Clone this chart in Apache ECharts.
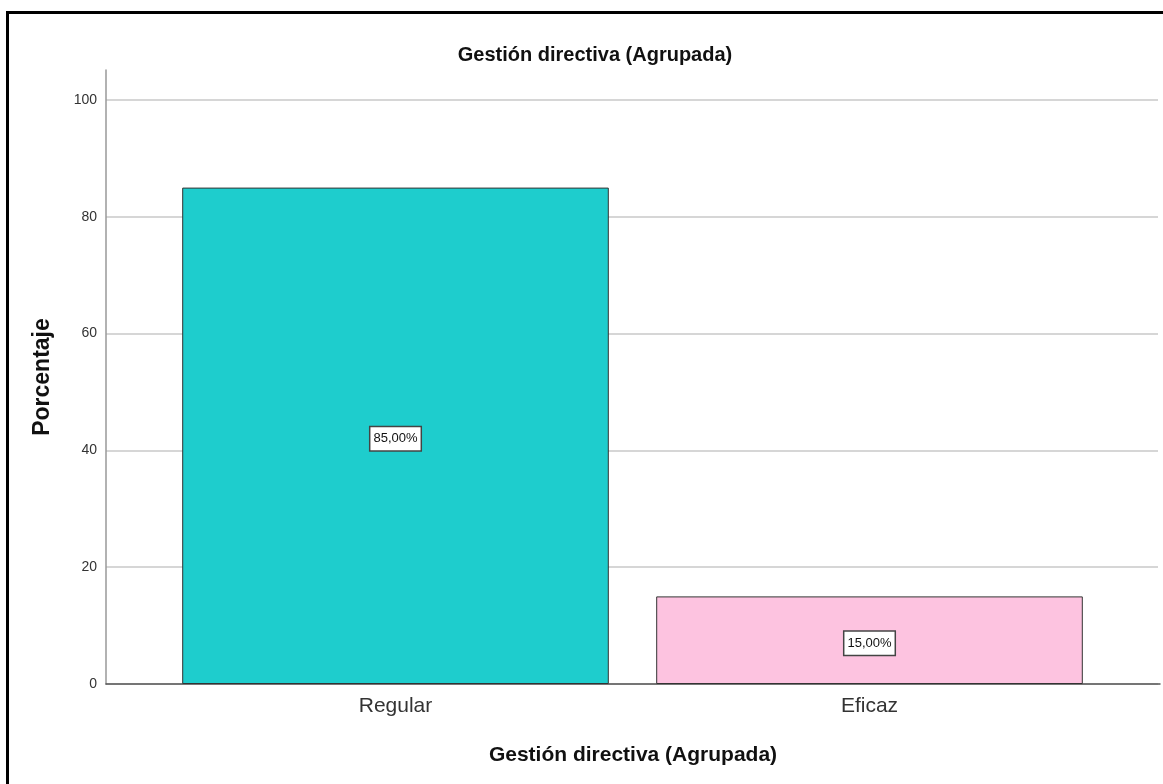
<!DOCTYPE html>
<html>
<head>
<meta charset="utf-8">
<script src="https://cdn.jsdelivr.net/npm/echarts@6/dist/echarts.min.js"></script>
<style>
  html, body { margin: 0; padding: 0; background: #fff; overflow: hidden; }
  #chart { position: absolute; left: 0; top: 0; width: 1163px; height: 784px; }
  #frame { position: absolute; left: 6px; top: 11px; width: 3000px; height: 3000px; border: 3px solid #000; pointer-events: none; }
</style>
</head>
<body>
<div id="chart"></div>
<div id="frame"></div>
<script>
const chartTitle = 'Gestión directiva (Agrupada)';
const xAxisName = 'Gestión directiva (Agrupada)';
const yAxisName = 'Porcentaje';
const categories = ['Regular', 'Eficaz'];
const percentValues = [85.00, 15.00];
const barColors = ['#1ecdcd', '#fdc3e0'];
const yTicks = [0, 20, 40, 60, 80, 100];

const font = 'Liberation Sans, Arial, sans-serif';
const chart = echarts.init(document.getElementById('chart'), null, { renderer: 'canvas' });

chart.setOption({
  backgroundColor: '#ffffff',
  animation: false,
  title: {
    text: chartTitle,
    left: 590, top: 40, textAlign: 'center',
    textStyle: { fontFamily: font, fontSize: 20, fontWeight: 'bold', color: '#111' }
  },
  grid: [
    { left: 106, right: 3, top: 70, bottom: 100 },
    { left: 106, right: 5, top: 100, bottom: 100 },
    { left: 158.5, right: 56.5, top: 100, bottom: 100 }
  ],
  xAxis: [
    {
      gridIndex: 0, type: 'category', data: categories,
      axisLine: { show: true, lineStyle: { color: '#555', width: 1.5 } },
      axisTick: { show: false }, axisLabel: { show: false },
      name: xAxisName, nameLocation: 'middle', nameGap: 61,
      nameTextStyle: { fontFamily: font, fontSize: 21, fontWeight: 'bold', color: '#111' }
    },
    { gridIndex: 1, type: 'category', data: categories, show: false },
    {
      gridIndex: 2, type: 'category', data: categories,
      axisLine: { show: false }, axisTick: { show: false },
      axisLabel: { fontFamily: font, fontSize: 21, color: '#333', margin: 12 }
    }
  ],
  yAxis: [
    {
      gridIndex: 0, type: 'value', min: 0, max: 105,
      axisLine: { show: true, lineStyle: { color: '#999', width: 1.5 } },
      axisTick: { show: false }, axisLabel: { show: false }, splitLine: { show: false },
      name: yAxisName, nameLocation: 'middle', nameGap: 52,
      nameTextStyle: { fontFamily: font, fontSize: 23, fontWeight: 'bold', color: '#111' }
    },
    {
      gridIndex: 1, type: 'value', min: yTicks[0], max: yTicks[yTicks.length - 1], interval: 20,
      axisLine: { show: false }, axisTick: { show: false },
      axisLabel: { fontFamily: font, fontSize: 14, color: '#333', margin: 9 },
      splitLine: { show: true, lineStyle: { color: '#d6d6d6', width: 2 } }
    },
    {
      gridIndex: 2, type: 'value', min: 0, max: 100, show: false
    }
  ],
  series: [
    {
      type: 'bar', xAxisIndex: 2, yAxisIndex: 2,
      barWidth: '90%',
      data: percentValues.map((v, i) => ({ value: v, itemStyle: { color: barColors[i] } })),
      itemStyle: { borderColor: '#333', borderWidth: 1 },
      label: {
        show: true, position: 'inside', offset: [0, 3],
        formatter: p => p.value.toFixed(2).replace('.', ',') + '%',
        fontFamily: font, fontSize: 13, lineHeight: 16, color: '#111',
        backgroundColor: '#fff', borderColor: '#444', borderWidth: 1.5,
        padding: [4, 3, 3, 3]
      }
    }
  ]
});
</script>
</body>
</html>
